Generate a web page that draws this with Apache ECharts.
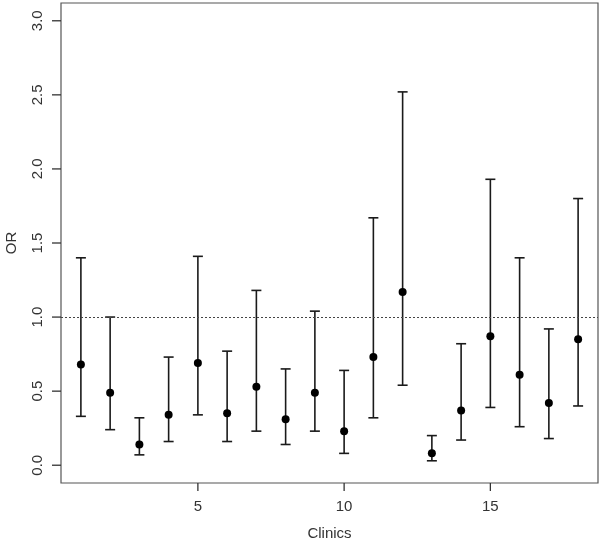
<!DOCTYPE html>
<html>
<head>
<meta charset="utf-8">
<script src="https://cdn.jsdelivr.net/npm/echarts@6/dist/echarts.min.js"></script>
<style>
  html, body { margin: 0; padding: 0; background: #fff; }
  #chart { width: 600px; height: 540px; }
</style>
</head>
<body>
<div id="chart"></div>
<script>
// clinic numbers
const clinics = [1, 2, 3, 4, 5, 6, 7, 8, 9, 10, 11, 12, 13, 14, 15, 16, 17, 18];
// odds ratio estimates and 95% CI
const orValues = [0.68, 0.49, 0.14, 0.34, 0.69, 0.35, 0.53, 0.31, 0.49, 0.23, 0.73, 1.17, 0.08, 0.37, 0.87, 0.61, 0.42, 0.85];
const lowerCI  = [0.33, 0.24, 0.07, 0.16, 0.34, 0.16, 0.23, 0.14, 0.23, 0.08, 0.32, 0.54, 0.03, 0.17, 0.39, 0.26, 0.18, 0.40];
const upperCI  = [1.40, 1.00, 0.32, 0.73, 1.41, 0.77, 1.18, 0.65, 1.04, 0.64, 1.67, 2.52, 0.20, 0.82, 1.93, 1.40, 0.92, 1.80];
const xTicks = [5, 10, 15];
const yTicks = [0, 0.5, 1, 1.5, 2, 2.5, 3];

const ink = '#1a1a1a';
const font = 'Liberation Sans, Arial, sans-serif';
const xMin = 0.32, xMax = 18.68, yMin = -0.12, yMax = 3.12;

const chart = echarts.init(document.getElementById('chart'));

const option = {
  animation: false,
  grid: {
    left: 61, right: 2, top: 3, bottom: 57,
    outerBoundsMode: 'none',
    show: true, borderColor: '#555', borderWidth: 1.2
  },
  xAxis: {
    type: 'value',
    min: xMin, max: xMax,
    name: 'Clinics',
    nameLocation: 'middle',
    nameGap: 43,
    nameTextStyle: { color: '#333', fontSize: 15, fontFamily: font },
    axisLine: { show: false, onZero: false },
    splitLine: { show: false },
    axisTick: { show: false },
    axisLabel: { customValues: xTicks, color: '#333', fontSize: 15, fontFamily: font, margin: 16 }
  },
  yAxis: {
    type: 'value',
    min: yMin, max: yMax,
    name: 'OR',
    nameLocation: 'middle',
    nameGap: 42,
    nameTextStyle: { color: '#333', fontSize: 15, fontFamily: font },
    axisLine: { show: false, onZero: false },
    splitLine: { show: false },
    axisTick: { show: false },
    axisLabel: {
      customValues: yTicks, rotate: 90, color: '#333', fontSize: 15, fontFamily: font, margin: 16,
      formatter: v => v.toFixed(1)
    }
  },
  series: [
    {
      type: 'custom',
      data: clinics.map((c, i) => [c, lowerCI[i], upperCI[i]]),
      renderItem: function (params, api) {
        const lo = api.coord([api.value(0), api.value(1)]);
        const hi = api.coord([api.value(0), api.value(2)]);
        const w = 5;
        const style = { stroke: ink, lineWidth: 1.6 };
        return {
          type: 'group',
          children: [
            { type: 'line', shape: { x1: lo[0], y1: lo[1], x2: hi[0], y2: hi[1] }, style: style },
            { type: 'line', shape: { x1: lo[0] - w, y1: lo[1], x2: lo[0] + w, y2: lo[1] }, style: style },
            { type: 'line', shape: { x1: hi[0] - w, y1: hi[1], x2: hi[0] + w, y2: hi[1] }, style: style }
          ]
        };
      },
      z: 2
    },
    {
      type: 'scatter',
      data: clinics.map((c, i) => [c, orValues[i]]),
      symbol: 'circle',
      symbolSize: 8,
      itemStyle: { color: '#000', opacity: 1 },
      z: 3,
      markLine: {
        silent: true,
        symbol: 'none',
        label: { show: false },
        lineStyle: { color: '#444', type: [2, 2], width: 1.2 },
        data: [{ yAxis: 1 }]
      }
    }
  ]
};

chart.setOption(option);

// R-style outside ticks, positioned through the axis scales
const tickStyle = { stroke: '#333', lineWidth: 1.3 };
const ticks = [];
xTicks.forEach(v => {
  const p = chart.convertToPixel({ gridIndex: 0 }, [v, yMin]);
  ticks.push({ type: 'line', silent: true, z: 10, shape: { x1: p[0], y1: p[1], x2: p[0], y2: p[1] + 8 }, style: tickStyle });
});
yTicks.forEach(v => {
  const p = chart.convertToPixel({ gridIndex: 0 }, [xMin, v]);
  ticks.push({ type: 'line', silent: true, z: 10, shape: { x1: p[0] - 9, y1: p[1], x2: p[0], y2: p[1] }, style: tickStyle });
});
chart.setOption({ graphic: ticks });
</script>
</body>
</html>
